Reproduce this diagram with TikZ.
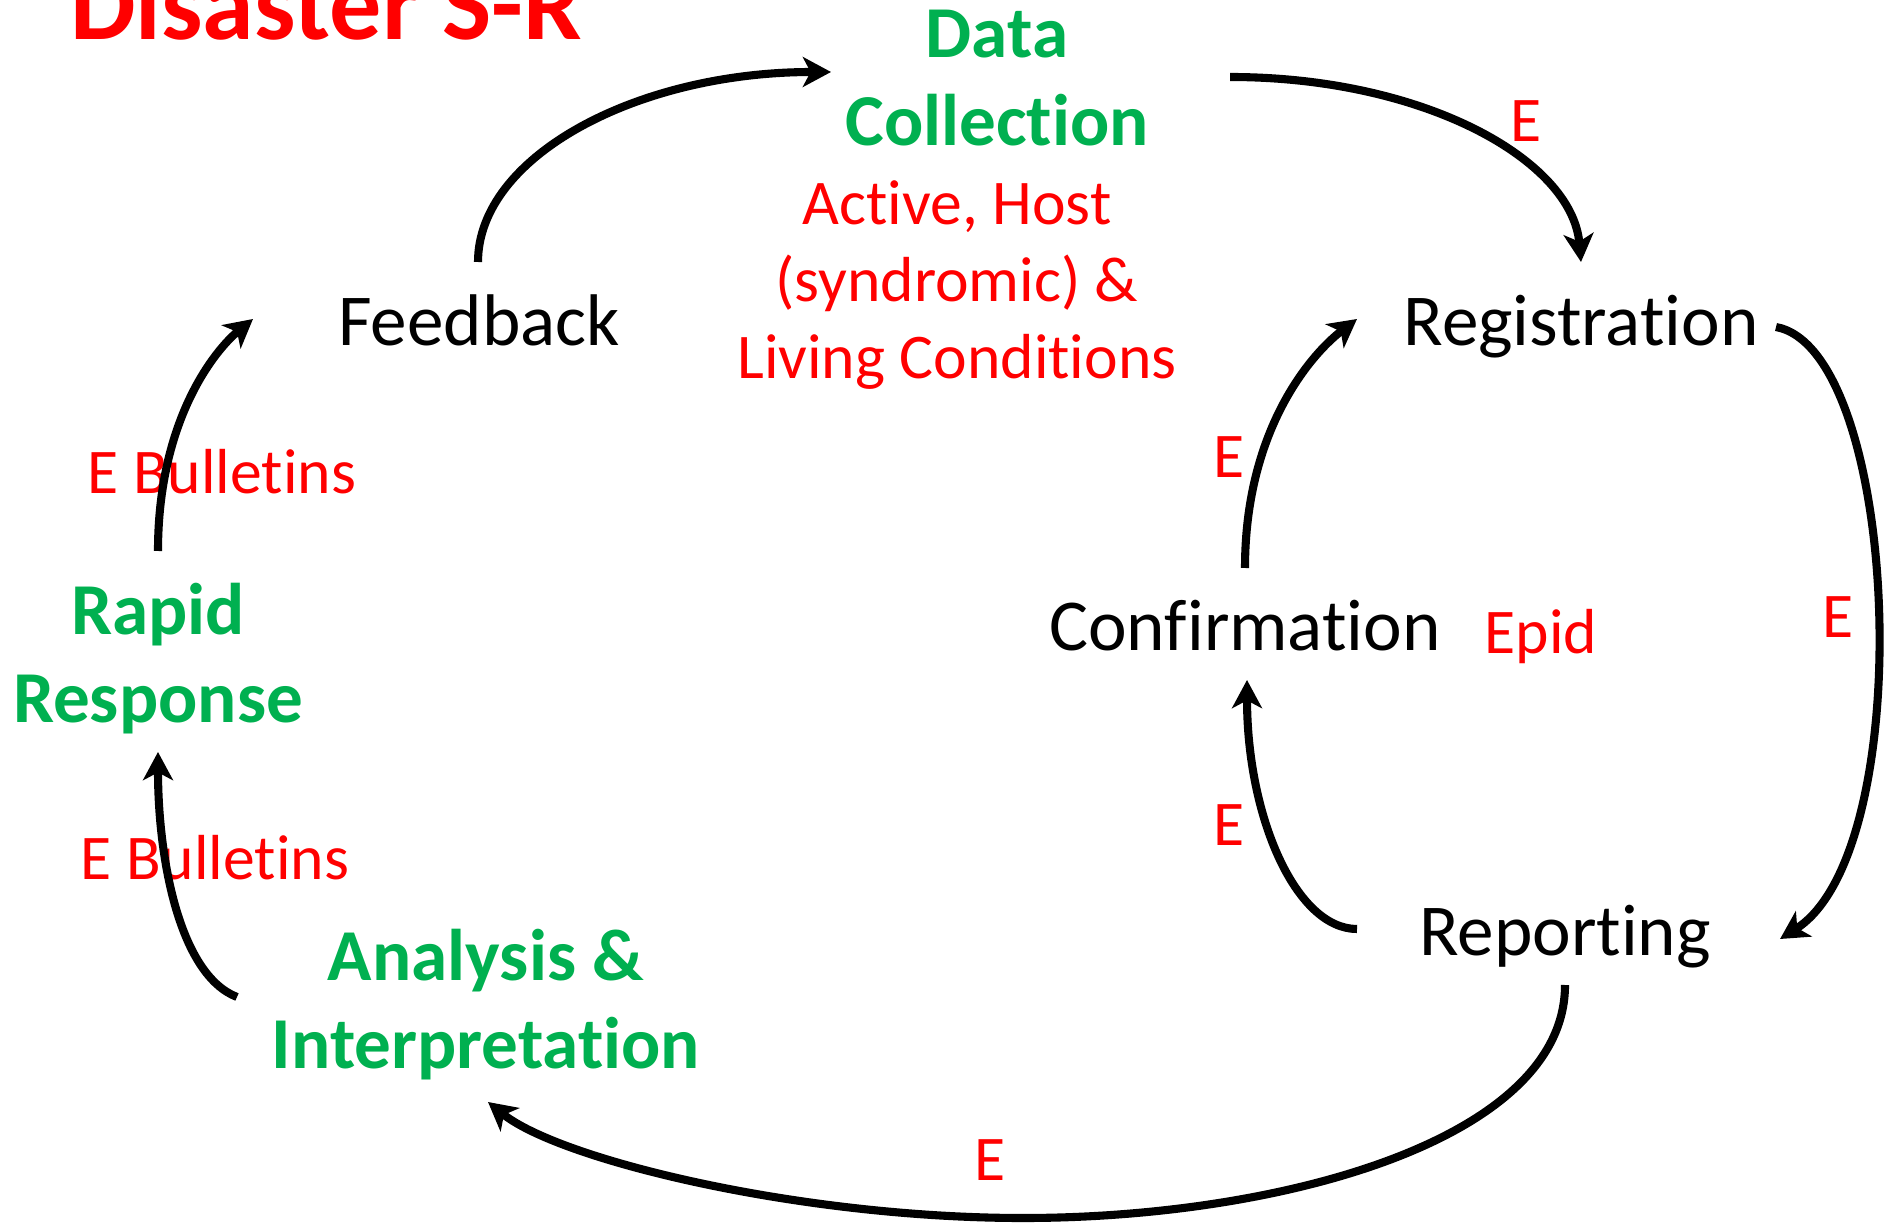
\documentclass[tikz,border=0pt]{standalone}
\usepackage{fontspec}
\setmainfont{Carlito}
\newcommand{\nl}{\kern0pt }
\usetikzlibrary{arrows.meta,calc}
\definecolor{pgreen}{HTML}{00B050}
\definecolor{pred}{HTML}{FF0000}
\tikzset{
  blk/.style={inner sep=0pt, anchor=base, text=black, font=\fontsize{20.8}{25}\selectfont},
  grn/.style={inner sep=0pt, align=center, text=pgreen, font=\fontsize{20.8}{25}\selectfont\bfseries},
  redlbl/.style={inner sep=0pt, anchor=base, text=pred, font=\fontsize{18.1}{21.8}\selectfont},
  redblk/.style={inner sep=0pt, align=center, text=pred, font=\fontsize{18.1}{21.8}\selectfont},
  arr/.style={line width=2.3pt, -{Stealth[length=8pt,width=8.5pt,inset=2.2pt]}}
}
\begin{document}
\begin{tikzpicture}[x=0.01cm,y=-0.01cm]
\useasboundingbox (0,0) rectangle (1888,1225);
% title
\node[inner sep=0pt, anchor=base, text=pred, font=\fontsize{29.6}{34}\selectfont\bfseries] (title) at (326,40) {Disaster S-R};
% nodes
\node[grn] (dc) at (997,78.5) {Data\\Collect\nl ion};
\node[redblk] (ahl) at (957,285) {Act\nl ive, Host\\(syndromic) \&\\Living Condit\nl ions};
\node[blk] (fb) at (479,346) {Feedback};
\node[blk] (reg) at (1581,346) {Registrat\nl ion};
\node[blk] (conf) at (1245,650) {Conf\nl irmat\nl ion};
\node[redlbl] (epid) at (1541,654) {Epid};
\node[blk] (rep) at (1565,955) {Report\nl ing};
\node[grn] (rr) at (158,658.5) {Rapid\\Response};
\node[grn] (ai) at (486,1004.5) {Analysis \&\\Interpretat\nl ion};
% edge labels
\node[redlbl] (eb1) at (222,494) {E Bullet\nl ins};
\node[redlbl] (eb2) at (215,879) {E Bullet\nl ins};
\node[redlbl] (e1) at (1526,142) {E};
\node[redlbl] (e2) at (1838,638) {E};
\node[redlbl] (e3) at (1229,478) {E};
\node[redlbl] (e4) at (1229,845) {E};
\node[redlbl] (e5) at (990,1180) {E};
% connectors
\draw[arr] ($(fb.base)+(-1,-84)$) .. controls (478,157) and (636,72) .. ($(dc)+(-166,-6.5)$);
\draw[arr] ($(dc)+(233,-1.5)$) .. controls (1424,77) and (1572,160) .. ($(reg.base)+(0,-84)$);
\draw[arr] ($(reg.base)+(195,-19)$) .. controls (1900,350) and (1920,850) .. ($(rep.base)+(215,-16)$);
\draw[arr] ($(rep.base)+(-208,-26)$) .. controls (1296,929) and (1247,817) .. ($(conf.base)+(2,30)$);
\draw[arr] ($(conf.base)+(0,-82)$) .. controls (1245,431) and (1310,355) .. ($(reg.base)+(-224,-27)$);
\draw[arr] ($(rep.base)+(0,30)$) .. controls (1565,1140) and (1280,1218) .. (1023,1218)
  .. controls (800,1218) and (560,1160) .. ($(ai)+(2,97.5)$);
\draw[arr] ($(ai)+(-249,-7.5)$) .. controls (180,975) and (158,860) .. ($(rr)+(0,93.5)$);
\draw[arr] ($(rr)+(0,-107.5)$) .. controls (158,420) and (215,350) .. ($(fb.base)+(-226,-27)$);
\end{tikzpicture}
\end{document}
